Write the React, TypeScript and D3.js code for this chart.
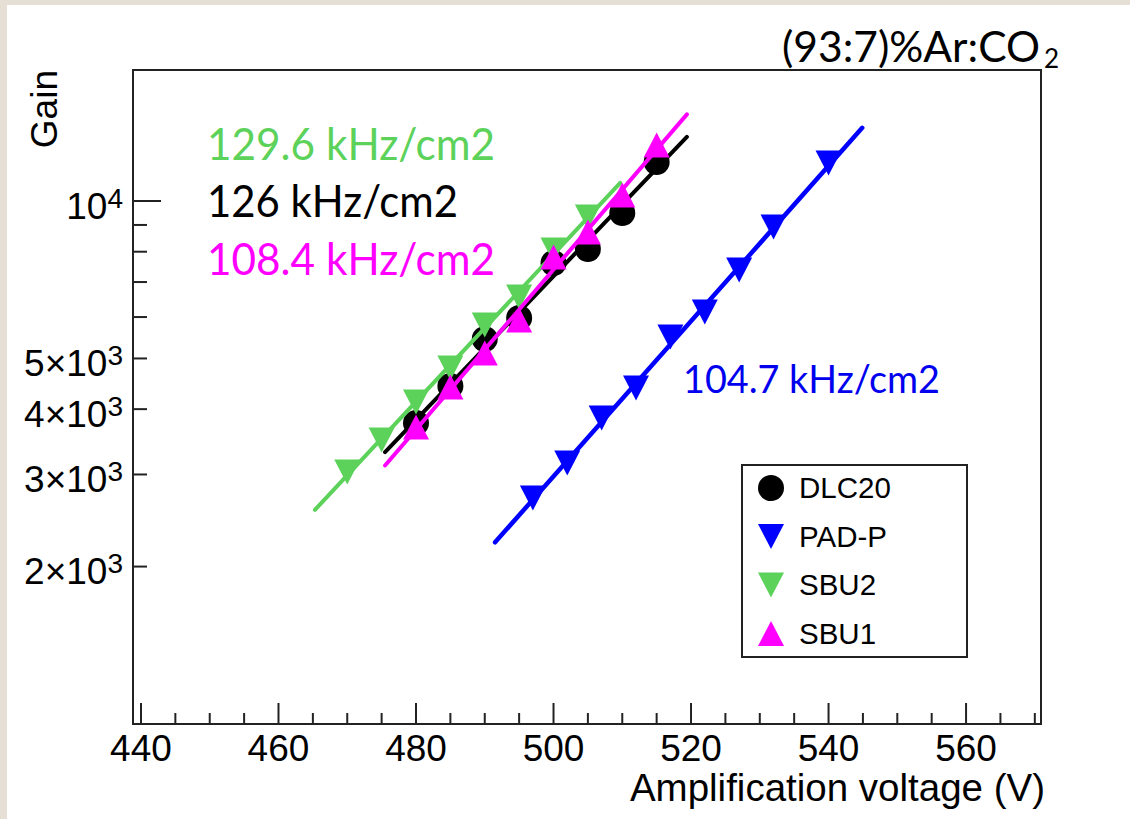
import React from 'react';
import * as d3 from 'd3';

const W = 1130;
const H = 819;
const frame = { left: 133, top: 70, right: 1041, bottom: 724 };

// Axis ticks
const xMajorTicks = [440, 460, 480, 500, 520, 540, 560];
const xMinorTicks = [445, 450, 455, 465, 470, 475, 485, 490, 495, 505, 510, 515, 525, 530, 535, 545, 550, 555, 565, 570];
const yMinorTicks = [2000, 3000, 4000, 5000, 6000, 7000, 8000, 9000];
const yMajorTicks = [10000];
const yLabelValues = [10000, 5000, 4000, 3000, 2000];
const yLabelMant = ['', '5×', '4×', '3×', '2×'];
const yLabelExp = ['4', '3', '3', '3', '3'];

// Series data (Amplification voltage V, Gain)
const dlcV = [480, 485, 490, 495, 500, 505, 510, 515];
const dlcG = [3763, 4428, 5447, 5975, 7612, 8094, 9486, 11874];
const padV = [497, 502, 507, 512, 517, 522, 527, 532, 540];
const padG = [2705, 3155, 3846, 4388, 5494, 6134, 7381, 8919, 11820];
const sbu2V = [470, 475, 480, 485, 490, 495, 500, 505];
const sbu2G = [3033, 3491, 4126, 4796, 5794, 6553, 8058, 9320];
const sbu1V = [480, 485, 490, 495, 500, 505, 510, 515];
const sbu1G = [3698, 4409, 5122, 5922, 7815, 8724, 10268, 12797];

// Fit ranges (V)
const dlcFit = [475.5, 519.4];
const padFit = [491.5, 544.9];
const sbu2Fit = [465.3, 509.7];
const sbu1Fit = [475.5, 519.4];

const legendNames = ['DLC20', 'PAD-P', 'SBU2', 'SBU1'];
const rateLabels = ['129.6 kHz/cm2', '126 kHz/cm2', '108.4 kHz/cm2', '104.7 kHz/cm2'];

const GREEN = '#5cd25a';
const BLUE = '#0000ff';
const MAGENTA = '#ff00ff';
const BLACK = '#000000';

const x = d3.scaleLinear().domain([438.84, 570.9]).range([frame.left, frame.right]);
const y = d3.scaleLog().domain([1000, 17805]).range([frame.bottom, frame.top]);

function fitLine(vs: number[], gs: number[], range: number[]) {
  const ls = gs.map((g) => Math.log10(g));
  const mv = d3.mean(vs) as number;
  const ml = d3.mean(ls) as number;
  let num = 0;
  let den = 0;
  vs.forEach((v, i) => {
    num += (v - mv) * (ls[i] - ml);
    den += (v - mv) * (v - mv);
  });
  const b = num / den;
  const a = ml - b * mv;
  const pts: [number, number][] = range.map((v) => [x(v), y(Math.pow(10, a + b * v))]);
  return d3.line()(pts) as string;
}

function marker(kind: string, cx: number, cy: number, color: string, key: string) {
  if (kind === 'circle') return <circle key={key} cx={cx} cy={cy} r={13} fill={color} />;
  const hw = 13;
  const hh = 12.5;
  if (kind === 'down')
    return <path key={key} d={`M${cx - hw},${cy - hh}L${cx + hw},${cy - hh}L${cx},${cy + hh}Z`} fill={color} />;
  return <path key={key} d={`M${cx - hw},${cy + hh}L${cx + hw},${cy + hh}L${cx},${cy - hh}Z`} fill={color} />;
}

const series = [
  { v: dlcV, g: dlcG, fit: dlcFit, kind: 'circle', color: BLACK, lw: 4 },
  { v: padV, g: padG, fit: padFit, kind: 'down', color: BLUE, lw: 4.5 },
  { v: sbu2V, g: sbu2G, fit: sbu2Fit, kind: 'down', color: GREEN, lw: 4 },
  { v: sbu1V, g: sbu1G, fit: sbu1Fit, kind: 'up', color: MAGENTA, lw: 4 },
];

const ROOTFONT = '"Liberation Sans", Arial, Helvetica, sans-serif';
const SLIDEFONT = 'Lato, "Open Sans", sans-serif';

export default function App() {
  const legendY = [488, 536.5, 585, 633.5];
  return (
    <div style={{ position: 'absolute', left: 0, top: 0 }}>
      <svg width={W} height={H} xmlns="http://www.w3.org/2000/svg" style={{ display: 'block' }}>
        <rect x={0} y={0} width={W} height={H} fill="#e5dfd5" />
        <rect x={7} y={5} width={W - 7} height={H - 5} fill="#ffffff" />

        {/* frame */}
        <rect
          x={frame.left}
          y={frame.top}
          width={frame.right - frame.left}
          height={frame.bottom - frame.top}
          fill="none"
          stroke="#222"
          strokeWidth={2}
        />

        {/* x ticks */}
        {xMajorTicks.map((t) => (
          <line key={'xM' + t} x1={x(t)} x2={x(t)} y1={frame.bottom} y2={frame.bottom - 21} stroke="#222" strokeWidth={2} />
        ))}
        {xMinorTicks.map((t) => (
          <line key={'xm' + t} x1={x(t)} x2={x(t)} y1={frame.bottom} y2={frame.bottom - 11} stroke="#222" strokeWidth={2} />
        ))}
        {xMajorTicks.map((t) => (
          <text key={'xl' + t} x={x(t)} y={761} textAnchor="middle" fontFamily={ROOTFONT} fontSize={37} fill="#000">
            {t}
          </text>
        ))}

        {/* y ticks */}
        {yMajorTicks.map((t) => (
          <line key={'yM' + t} x1={frame.left} x2={frame.left + 28} y1={y(t)} y2={y(t)} stroke="#222" strokeWidth={2} />
        ))}
        {yMinorTicks.map((t) => (
          <line key={'ym' + t} x1={frame.left} x2={frame.left + 14} y1={y(t)} y2={y(t)} stroke="#222" strokeWidth={2} />
        ))}
        {yLabelValues.map((t, i) => (
          <text key={'yl' + t} x={123} y={y(t) + 17.5} textAnchor="end" fontFamily={ROOTFONT} fontSize={37} fill="#000">
            {yLabelMant[i] + '10'}
            <tspan dy={-11} fontSize={28}>
              {yLabelExp[i]}
            </tspan>
          </text>
        ))}

        {/* axis titles */}
        <text transform="translate(57,70) rotate(-90)" textAnchor="end" fontFamily={ROOTFONT} fontSize={37} fill="#000">
          Gain
        </text>
        <text x={1045} y={801} textAnchor="end" fontFamily={ROOTFONT} fontSize={38.5} fill="#000">
          Amplification voltage (V)
        </text>

        {/* data */}
        {series.map((s, si) => (
          <g key={'s' + si}>
            {s.v.map((v, i) => marker(s.kind, x(v), y(s.g[i]), s.color, `m${si}-${i}`))}
            <path d={fitLine(s.v, s.g, s.fit)} stroke={s.color} strokeWidth={s.lw} fill="none" strokeLinecap="round" />
          </g>
        ))}

        {/* legend */}
        <rect x={742} y={465} width={225} height={192} fill="#fff" stroke="#222" strokeWidth={2} />
        {series.map((s, i) => (
          <g key={'lg' + i}>
            {marker(s.kind, 771, legendY[i], s.color, 'lm' + i)}
            <text x={799} y={legendY[i] + 10} fontFamily={ROOTFONT} fontSize={29.5} fill="#000">
              {legendNames[i]}
            </text>
          </g>
        ))}

        {/* slide annotations */}
        <text x={207} y={160} fontFamily={SLIDEFONT} fontSize={44} fill={GREEN} textLength={288} lengthAdjust="spacingAndGlyphs">
          {rateLabels[0]}
        </text>
        <text x={207} y={217} fontFamily={SLIDEFONT} fontSize={44} fill={BLACK} textLength={251} lengthAdjust="spacingAndGlyphs">
          {rateLabels[1]}
        </text>
        <text x={207} y={275} fontFamily={SLIDEFONT} fontSize={44} fill={MAGENTA} textLength={288} lengthAdjust="spacingAndGlyphs">
          {rateLabels[2]}
        </text>
        <text x={683} y={393} fontFamily={SLIDEFONT} fontSize={39} fill="#0000ee" textLength={257} lengthAdjust="spacingAndGlyphs">
          {rateLabels[3]}
        </text>

        {/* title */}
        <text x={782} y={62} fontFamily={SLIDEFONT} fontSize={42} fill="#000" textLength={258} lengthAdjust="spacingAndGlyphs">
          (93:7)%Ar:CO
        </text>
        <text x={1044} y={68} fontFamily={SLIDEFONT} fontSize={26} fill="#000">
          2
        </text>
      </svg>
    </div>
  );
}
